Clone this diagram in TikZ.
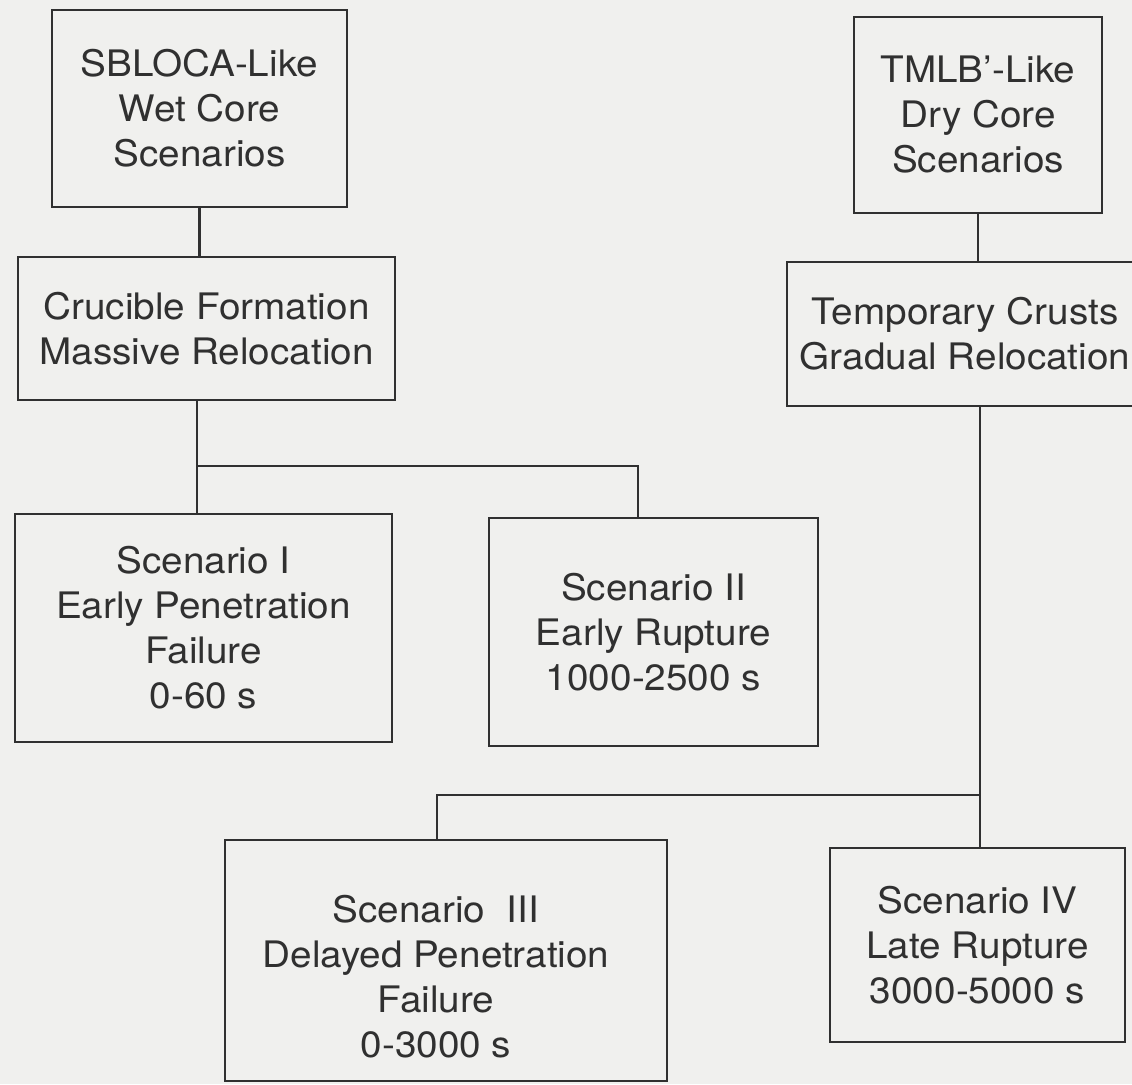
\documentclass[tikz,border=0pt]{standalone}
\usepackage{fontspec}
\setmainfont{TeX Gyre Heros}[FakeStretch=1.06]
\definecolor{paper}{RGB}{240,240,238}
\definecolor{ink}{RGB}{48,48,48}
\begin{document}
\begin{tikzpicture}[x=1pt,y=-1pt,
  box/.style={draw=ink, line width=2.4pt, rectangle, inner sep=0pt},
  txt/.style={text=ink, align=center, font=\fontsize{36.5}{45}\selectfont, inner sep=0pt},
  conn/.style={draw=ink, line width=2.4pt}]
\fill[paper] (0,0) rectangle (1132,1084);
\useasboundingbox (0,0) rectangle (1132,1084);
% boxes
\node[box, txt, minimum width=295pt, minimum height=197pt] (b1) at (199.5,108.5) {SBLOCA-Like\\Wet Core\\Scenarios};
\node[box, txt, minimum width=248pt, minimum height=196pt] (b2) at (978,115) {TMLB'-Like\\Dry Core\\Scenarios};
\node[box, txt, minimum width=377pt, minimum height=143pt] (b3) at (206.5,328.5) {Crucible Formation\\Massive Relocation};
\node[box, txt, minimum width=356pt, minimum height=144pt] (b4) at (965,334) {Temporary Crusts\\Gradual Relocation};
\node[box, txt, minimum width=377pt, minimum height=228pt] (b5) at (203.5,628) {Scenario I\\Early Penetration\\Failure\\0-60 s};
\node[box, txt, minimum width=329pt, minimum height=228pt] (b6) at (653.5,632) {Scenario II\\Early Rupture\\1000-2500 s};
\node[box, minimum width=442pt, minimum height=241pt] (b7) at (446,960.5) {};
\node[txt] (b7t) at (436,977) {Scenario~~III\\Delayed Penetration\\Failure\\0-3000 s};
\node[box, txt, minimum width=295pt, minimum height=194pt] (b8) at (977.5,945) {Scenario IV\\Late Rupture\\3000-5000 s};
% junctions
\coordinate (j1) at (197,466);
\coordinate (j2) at (638,466);
\coordinate (j3) at (980,795);
\coordinate (j4) at (437,795);
% connectors
\draw[conn] (b1.south) -- (b1.south |- b3.north);
\draw[conn] (b3.south -| j1) -- (j1) -- (j1 |- b5.north);
\draw[conn] (j1) -- (j2) -- (j2 |- b6.north);
\draw[conn] (b2.south) -- (b2.south |- b4.north);
\draw[conn] (b4.south -| j3) -- (j3) -- (j3 |- b8.north);
\draw[conn] (j3) -- (j4) -- (j4 |- b7.north);
\end{tikzpicture}
\end{document}
